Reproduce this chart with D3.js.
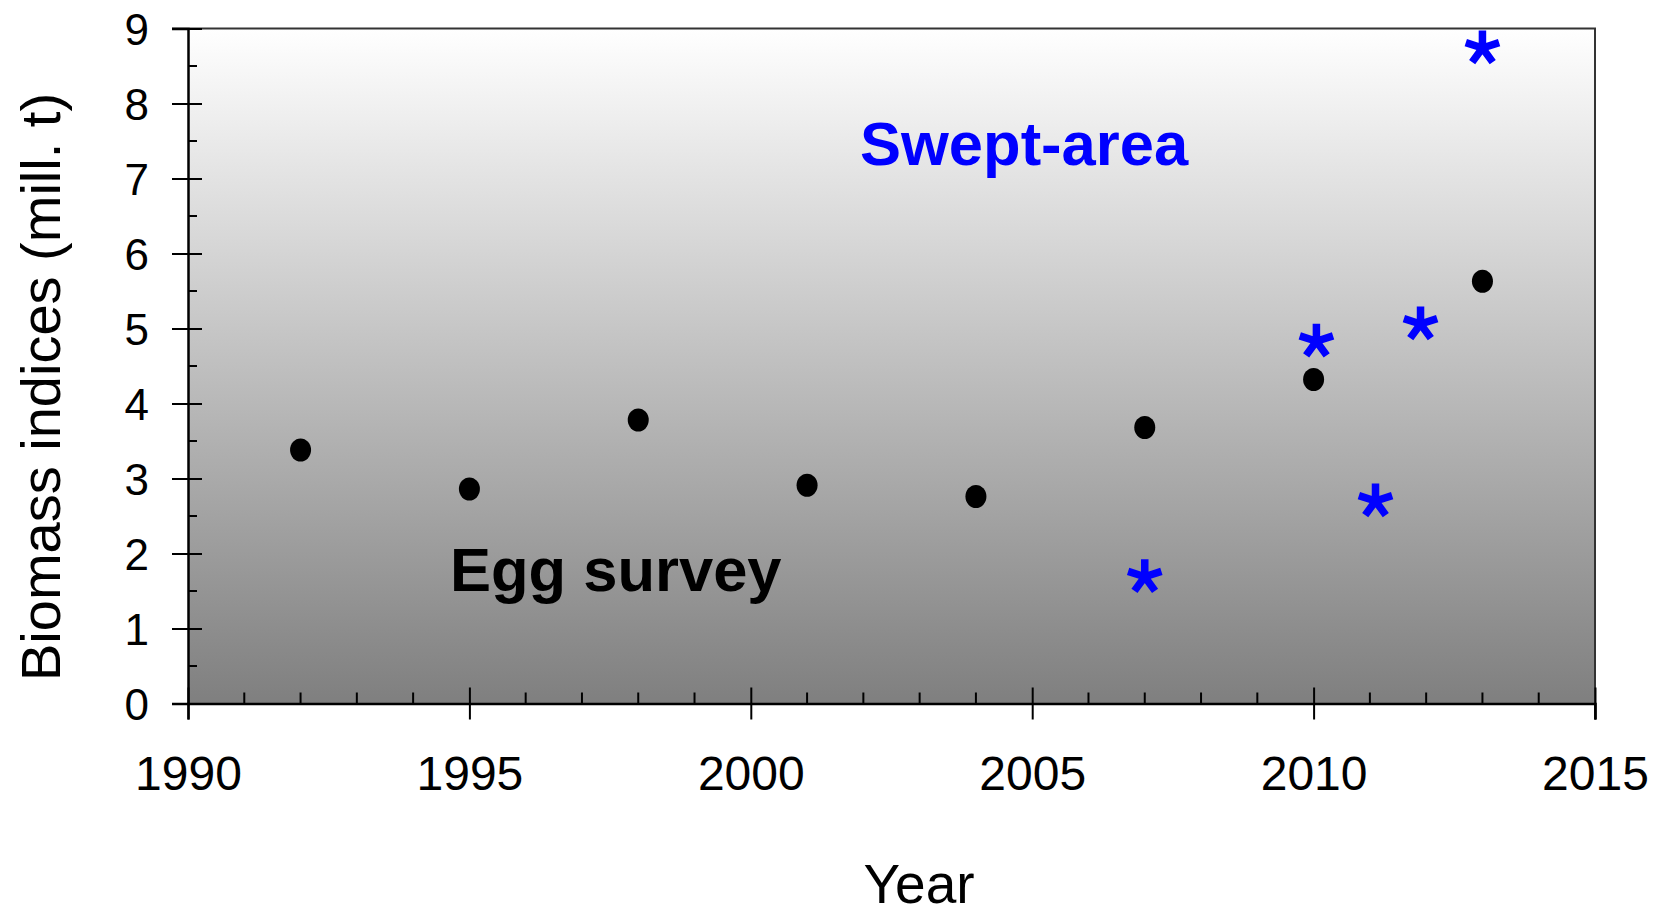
<!DOCTYPE html>
<html><head><meta charset="utf-8">
<script src="https://cdn.jsdelivr.net/npm/d3@7"></script>
<style>body{margin:0;background:#fff}svg{display:block}</style>
</head><body>
<svg id="c" width="1664" height="915"></svg>
<script>
const eggYears = [1992, 1995, 1998, 2001, 2004, 2007, 2010, 2013];
const eggValues = [3.38, 2.86, 3.78, 2.91, 2.76, 3.68, 4.32, 5.63];
const sweptYears = [2007, 2010.05, 2011.1, 2011.9, 2013];
const sweptValues = [1.71, 4.85, 2.72, 5.08, 8.76];
const xTicks = [1990, 1995, 2000, 2005, 2010, 2015];
const yTicks = [0,1,2,3,4,5,6,7,8,9];

const m = {left: 188, right: 1595, top: 28.5, bottom: 703.5};
const svg = d3.select('#c');
const x = d3.scaleLinear().domain([1990, 2015]).range([m.left, m.right]);
const y = d3.scaleLinear().domain([0, 9]).range([m.bottom, m.top]);

const defs = svg.append('defs');
const g = defs.append('linearGradient').attr('id','bg').attr('x1',0).attr('y1',0).attr('x2',0).attr('y2',1);
g.append('stop').attr('offset','0%').attr('stop-color','#ffffff');
g.append('stop').attr('offset','100%').attr('stop-color','#7f7f7f');

svg.append('rect').attr('x', m.left).attr('y', m.top).attr('width', m.right-m.left).attr('height', m.bottom-m.top).attr('fill','url(#bg)');
svg.append('path').attr('d', `M${m.left-16},${m.top}H${m.right}V${m.bottom+16}`).attr('fill','none').attr('stroke','#333').attr('stroke-width',2);

const font = '"Liberation Sans", Arial, sans-serif';

// y axis
const yAx = svg.append('g').attr('transform', `translate(${m.left},0)`)
  .call(d3.axisLeft(y).tickValues(yTicks).tickFormat(d3.format('d')).tickSize(16).tickPadding(23));
yAx.select('.domain').attr('stroke','#000').attr('stroke-width',2.5);
yAx.selectAll('.tick line').attr('x2',-16).attr('x1',14).attr('stroke','#000').attr('stroke-width',2);
yAx.selectAll('text').attr('font-family', font).attr('font-size', 44).attr('fill','#000').attr('dy','0.36em');
svg.append('g').selectAll('line').data(d3.range(0.5, 9, 1)).join('line')
  .attr('x1', m.left).attr('x2', m.left+9).attr('y1', d=>y(d)).attr('y2', d=>y(d)).attr('stroke','#000').attr('stroke-width',2);

// x axis
const xAx = svg.append('g').attr('transform', `translate(0,${m.bottom})`)
  .call(d3.axisBottom(x).tickValues(xTicks).tickFormat(d3.format('d')).tickSize(16).tickPadding(0));
xAx.select('.domain').attr('stroke','#000').attr('stroke-width',2.5);
xAx.selectAll('.tick line').attr('y1',-16).attr('y2',16).attr('stroke','#000').attr('stroke-width',2);
xAx.selectAll('text').attr('font-family', font).attr('font-size', 48).attr('fill','#000').attr('y', 86).attr('dy', null);
svg.append('g').selectAll('line').data(d3.range(1990, 2015).filter(d=>d%5!==0)).join('line')
  .attr('x1', d=>x(d)).attr('x2', d=>x(d)).attr('y1', m.bottom).attr('y2', m.bottom-11).attr('stroke','#000').attr('stroke-width',2);

// egg survey dots
svg.append('g').selectAll('ellipse').data(eggYears.map((d,i)=>[d, eggValues[i]])).join('ellipse')
  .attr('cx', d=>x(d[0])).attr('cy', d=>y(d[1])).attr('rx', 10.5).attr('ry', 11.5).attr('fill','#000');

// swept area asterisks (5 arms)
const L = 17.5;
const armPath = d3.range(5).map(i => {
  const a = -Math.PI/2 + i*2*Math.PI/5;
  return `M0,0L${(L*Math.cos(a)).toFixed(2)},${(L*Math.sin(a)).toFixed(2)}`;
}).join('');
svg.append('g').selectAll('path').data(sweptYears.map((d,i)=>[d, sweptValues[i]])).join('path')
  .attr('transform', d=>`translate(${x(d[0])},${y(d[1])+1.5})`).attr('d', armPath)
  .attr('stroke','#0000ff').attr('stroke-width',7.5).attr('fill','none');

// annotations
svg.append('text').attr('x', 860).attr('y', 165).text('Swept-area')
  .attr('font-family', font).attr('font-weight','bold').attr('font-size',61.5).attr('fill','#0000ff');
svg.append('text').attr('x', 450).attr('y', 591).text('Egg survey')
  .attr('font-family', font).attr('font-weight','bold').attr('font-size',61.5).attr('fill','#000');

// axis titles
svg.append('text').attr('transform','translate(60,387) rotate(-90)').attr('text-anchor','middle').text('Biomass indices (mill. t)')
  .attr('font-family', font).attr('font-size', 56).attr('fill','#000');
svg.append('text').attr('x', 919).attr('y', 903).attr('text-anchor','middle').text('Year')
  .attr('font-family', font).attr('font-size', 55).attr('fill','#000');
</script>
</body></html>
